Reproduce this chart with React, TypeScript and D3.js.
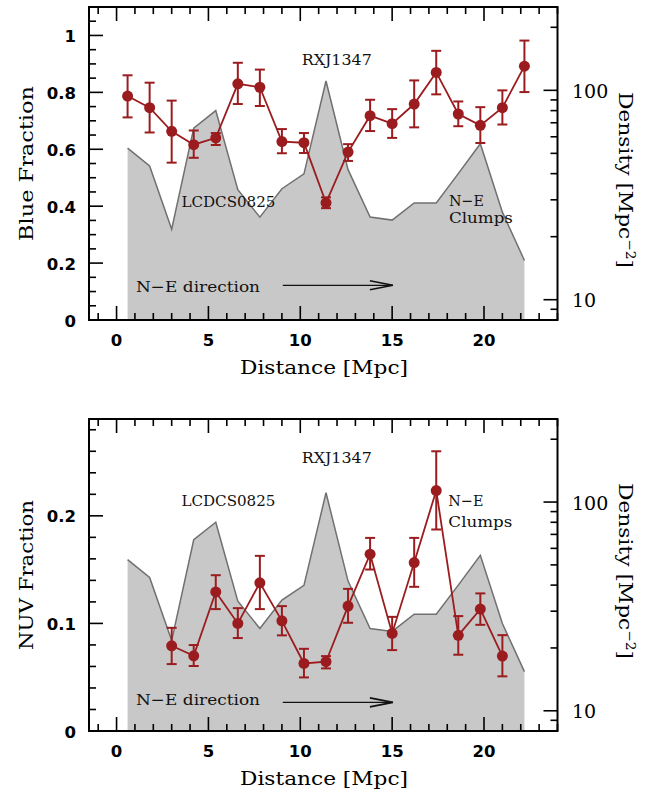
import React from "react";
import * as d3 from "d3";

// Distance bins along the N-E direction [Mpc]
const distance = [0.6, 1.8, 3.0, 4.2, 5.4, 6.6, 7.8, 9.0, 10.2, 11.4, 12.6, 13.8, 15.0, 16.2, 17.4, 18.6, 19.8, 21.0, 22.2];

// Galaxy surface density [Mpc^-2] (gray profile, right axis)
const density = [53.0, 43.5, 21.7, 66.0, 80.0, 33.5, 24.8, 33.9, 39.9, 110.8, 41.8, 24.8, 24.0, 29.0, 29.0, 40.0, 55.6, 26.2, 15.4];

// Blue fraction with lower / upper error limits
const blueFraction = [0.787, 0.746, 0.663, 0.616, 0.640, 0.830, 0.818, 0.627, 0.623, 0.412, 0.590, 0.718, 0.690, 0.759, 0.870, 0.724, 0.684, 0.746, 0.892];
const blueLow = [0.712, 0.659, 0.553, 0.570, 0.615, 0.759, 0.752, 0.586, 0.587, 0.393, 0.559, 0.664, 0.640, 0.677, 0.793, 0.681, 0.622, 0.687, 0.801];
const blueHigh = [0.860, 0.834, 0.771, 0.666, 0.657, 0.904, 0.880, 0.671, 0.657, 0.431, 0.618, 0.774, 0.741, 0.842, 0.946, 0.768, 0.748, 0.807, 0.982];

// NUV fraction (available from 3.0 to 21.0 Mpc)
const nuvDistance = [3.0, 4.2, 5.4, 6.6, 7.8, 9.0, 10.2, 11.4, 12.6, 13.8, 15.0, 16.2, 17.4, 18.6, 19.8, 21.0];
const nuvFraction = [0.0792, 0.0699, 0.1293, 0.1000, 0.1377, 0.1024, 0.0628, 0.0644, 0.1161, 0.1643, 0.0907, 0.1566, 0.2235, 0.0889, 0.1133, 0.0696];
const nuvLow = [0.0622, 0.0604, 0.1133, 0.0864, 0.1133, 0.0889, 0.0498, 0.0582, 0.1006, 0.1501, 0.0752, 0.1340, 0.1873, 0.0709, 0.0987, 0.0508];
const nuvHigh = [0.0959, 0.0799, 0.1448, 0.1142, 0.1628, 0.1161, 0.0764, 0.0696, 0.1321, 0.1795, 0.1061, 0.1795, 0.2600, 0.1068, 0.1279, 0.0891];

// Tick labels
const distanceTicks = [0, 5, 10, 15, 20];
const blueTicks = [0, 0.2, 0.4, 0.6, 0.8, 1];
const nuvTicks = [0, 0.1, 0.2];
const densityTicks = [10, 100];

const RED = "#9b1c1f";
const FILL = "#c8c8c8";
const EDGE = "#707070";
const SERIF = "'DejaVu Serif', serif";
const SANS_BOLD = "'DejaVu Sans', sans-serif";

const X0 = 89;
const X1 = 557.5;
const MAJOR = 14;
const MINOR = 7;

type PanelProps = {
  top: number;
  bottom: number;
  yMax: number;
  yMajor: number[];
  yMinorStep: number;
  yLabel: string;
  yLabelLen: number;
  yLabelCenter: number;
  densityLabelTop: number;
  xs: number[];
  vals: number[];
  lows: number[];
  highs: number[];
  notes: { text: string; x: number; y: number; len: number }[];
  arrowY: number;
  dirY: number;
};

function Panel(p: PanelProps) {
  const x = d3.scaleLinear().domain([-1.5, 24]).range([X0, X1]);
  const y = d3.scaleLinear().domain([0, p.yMax]).range([p.bottom, p.top]);
  const yR = d3.scaleLog().domain([8, 250]).range([p.bottom, p.top]);

  const profile = distance.map((d, i) => ({ d, v: density[i] }));
  const area = d3
    .area<{ d: number; v: number }>()
    .x((o) => x(o.d))
    .y0(p.bottom)
    .y1((o) => yR(o.v));
  const edge = d3
    .line<{ d: number; v: number }>()
    .x((o) => x(o.d))
    .y((o) => yR(o.v));

  const pts = p.xs.map((d, i) => ({ d, v: p.vals[i], lo: p.lows[i], hi: p.highs[i] }));
  const link = d3
    .line<{ d: number; v: number }>()
    .x((o) => x(o.d))
    .y((o) => y(o.v));

  // x ticks: majors every 5, minors every 1
  const xMinor = d3.range(-1, 24.01, 1).filter((v) => v % 5 !== 0);
  const yMinor = d3
    .range(0, p.yMax + 1e-9, p.yMinorStep)
    .filter((v) => !p.yMajor.some((m) => Math.abs(m - v) < 1e-6));
  const rMajor = [10, 100];
  const rMinor = [9, 20, 30, 40, 50, 60, 70, 80, 90, 200];

  const fmt = (v: number) => (v === 0 ? "0" : v === 1 ? "1" : String(+v.toFixed(2)));

  const ax = x(9.05);
  const bx = x(15.04);
  const ay = y(p.arrowY);

  return (
    <g>
      <path d={area(profile) || ""} fill={FILL} stroke="none" />
      <path d={edge(profile) || ""} fill="none" stroke={EDGE} strokeWidth={1.5} />

      {/* annotations */}
      {p.notes.map((n, i) => (
        <text
          key={i}
          x={x(n.x)}
          y={y(n.y)}
          fontFamily={SERIF}
          fontSize={15.5}
          textLength={n.len}
          lengthAdjust="spacingAndGlyphs"
          fill="#111"
        >
          {n.text}
        </text>
      ))}
      <text
        x={x(1.06)}
        y={y(p.dirY)}
        fontFamily={SERIF}
        fontSize={15.5}
        textLength={124}
        lengthAdjust="spacingAndGlyphs"
        fill="#111"
      >
        N−E direction
      </text>
      <line x1={ax} x2={bx} y1={ay} y2={ay} stroke="#111" strokeWidth={1.3} />
      <polyline
        points={`${bx - 23},${ay - 4.5} ${bx},${ay} ${bx - 23},${ay + 4.5}`}
        fill="none"
        stroke="#111"
        strokeWidth={1.6}
      />

      {/* series */}
      <path d={link(pts) || ""} fill="none" stroke={RED} strokeWidth={1.8} />
      {pts.map((o, i) => (
        <g key={i} stroke={RED} strokeWidth={2}>
          <line x1={x(o.d)} x2={x(o.d)} y1={y(o.lo)} y2={y(o.hi)} />
          <line x1={x(o.d) - 5} x2={x(o.d) + 5} y1={y(o.lo)} y2={y(o.lo)} />
          <line x1={x(o.d) - 5} x2={x(o.d) + 5} y1={y(o.hi)} y2={y(o.hi)} />
          <circle cx={x(o.d)} cy={y(o.v)} r={5.5} fill={RED} stroke="none" />
        </g>
      ))}

      {/* ticks */}
      <g stroke="#000" strokeWidth={1.6}>
        {distanceTicks.map((t) => (
          <g key={"xm" + t}>
            <line x1={x(t)} x2={x(t)} y1={p.bottom} y2={p.bottom - MAJOR} />
            <line x1={x(t)} x2={x(t)} y1={p.top} y2={p.top + MAJOR} />
          </g>
        ))}
        {xMinor.map((t) => (
          <g key={"xn" + t}>
            <line x1={x(t)} x2={x(t)} y1={p.bottom} y2={p.bottom - MINOR} />
            <line x1={x(t)} x2={x(t)} y1={p.top} y2={p.top + MINOR} />
          </g>
        ))}
        {p.yMajor.map((t) => (
          <line key={"ym" + t} x1={X0} x2={X0 + MAJOR} y1={y(t)} y2={y(t)} />
        ))}
        {yMinor.map((t) => (
          <line key={"yn" + t} x1={X0} x2={X0 + MINOR} y1={y(t)} y2={y(t)} />
        ))}
        {rMajor.map((t) => (
          <line key={"rm" + t} x1={X1} x2={X1 - MAJOR} y1={yR(t)} y2={yR(t)} />
        ))}
        {rMinor.map((t) => (
          <line key={"rn" + t} x1={X1} x2={X1 - MINOR} y1={yR(t)} y2={yR(t)} />
        ))}
      </g>
      <rect
        x={X0}
        y={p.top}
        width={X1 - X0}
        height={p.bottom - p.top}
        fill="none"
        stroke="#000"
        strokeWidth={2}
      />

      {/* tick labels */}
      {distanceTicks.map((t) => (
        <text
          key={"xl" + t}
          x={x(t)}
          y={p.bottom + 26}
          textAnchor="middle"
          fontFamily={SANS_BOLD}
          fontWeight="bold"
          fontSize={16.5}
        >
          {t}
        </text>
      ))}
      {p.yMajor.map((t) => (
        <text
          key={"yl" + t}
          x={76}
          y={y(t) + 6.5}
          textAnchor="end"
          fontFamily={SANS_BOLD}
          fontWeight="bold"
          fontSize={16.5}
        >
          {fmt(t)}
        </text>
      ))}
      {densityTicks.map((t) => (
        <text key={"rl" + t} x={572} y={yR(t) + 7.5} fontFamily={SERIF} fontSize={19}>
          {t}
        </text>
      ))}

      {/* axis titles */}
      <text
        x={240}
        y={p.bottom + 54}
        fontFamily={SERIF}
        fontSize={19}
        textLength={168}
        lengthAdjust="spacingAndGlyphs"
      >
        Distance [Mpc]
      </text>
      <text
        transform={`translate(33,${p.yLabelCenter + p.yLabelLen / 2}) rotate(-90)`}
        fontFamily={SERIF}
        fontSize={19}
        textLength={p.yLabelLen}
        lengthAdjust="spacingAndGlyphs"
      >
        {p.yLabel}
      </text>
      <text
        transform={`translate(619,${p.densityLabelTop}) rotate(90)`}
        fontFamily={SERIF}
        fontSize={19}
        textLength={176}
        lengthAdjust="spacingAndGlyphs"
      >
        Density [Mpc
        <tspan fontSize={12} dy={-7}>
          −2
        </tspan>
        <tspan dy={7}>]</tspan>
      </text>
    </g>
  );
}

export default function App() {
  return (
    <svg
      width={658}
      height={796}
      viewBox="0 0 658 796"
      style={{ position: "absolute", left: 0, top: 0, background: "#fff" }}
    >
      <rect x={0} y={0} width={658} height={796} fill="#fff" />
      <Panel
        top={7}
        bottom={320}
        yMax={1.1}
        yMajor={blueTicks}
        yMinorStep={0.05}
        yLabel="Blue Fraction"
        yLabelLen={155}
        yLabelCenter={163.5}
        densityLabelTop={92}
        xs={distance}
        vals={blueFraction}
        lows={blueLow}
        highs={blueHigh}
        notes={[
          { text: "RXJ1347", x: 10.08, y: 0.895, len: 70 },
          { text: "LCDCS0825", x: 3.53, y: 0.398, len: 94 },
          { text: "N−E", x: 18.09, y: 0.4, len: 35 },
          { text: "Clumps", x: 18.09, y: 0.341, len: 64 },
        ]}
        arrowY={0.122}
        dirY={0.0995}
      />
      <Panel
        top={419}
        bottom={731}
        yMax={0.29}
        yMajor={nuvTicks}
        yMinorStep={0.02}
        yLabel="NUV Fraction"
        yLabelLen={150}
        yLabelCenter={575}
        densityLabelTop={483}
        xs={nuvDistance}
        vals={nuvFraction}
        lows={nuvLow}
        highs={nuvHigh}
        notes={[
          { text: "RXJ1347", x: 10.08, y: 0.249, len: 70 },
          { text: "LCDCS0825", x: 3.53, y: 0.209, len: 94 },
          { text: "N−E", x: 18.06, y: 0.209, len: 35 },
          { text: "Clumps", x: 18.06, y: 0.1896, len: 64 },
        ]}
        arrowY={0.0266}
        dirY={0.0241}
      />
    </svg>
  );
}
